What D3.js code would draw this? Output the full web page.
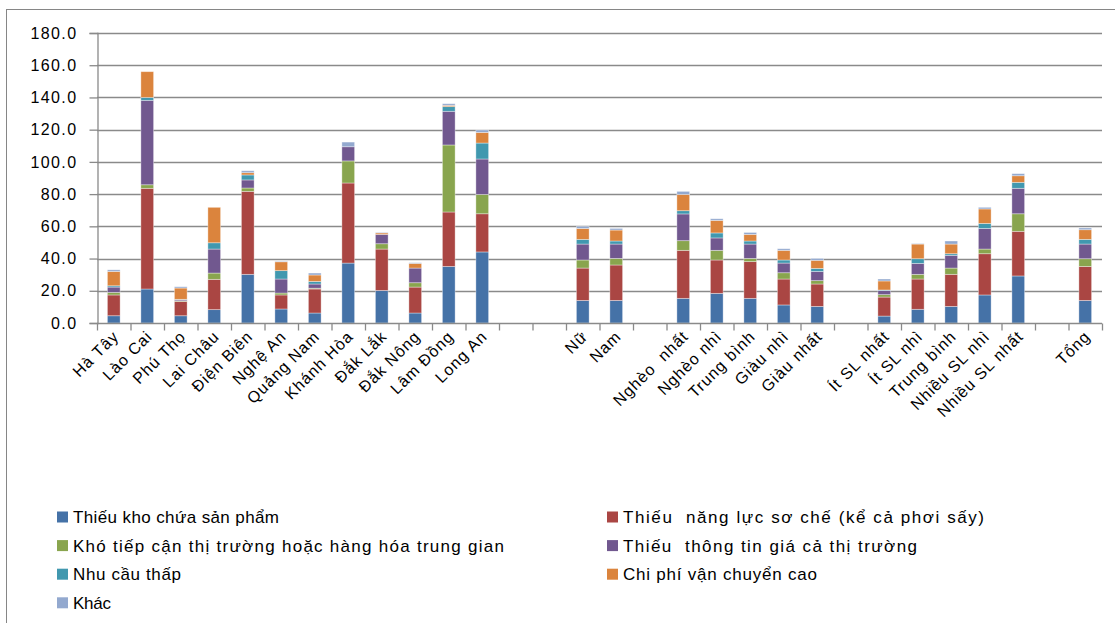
<!DOCTYPE html>
<html>
<head>
<meta charset="utf-8">
<script src="https://cdn.jsdelivr.net/npm/d3@7"></script>
<style>
  html, body { margin: 0; padding: 0; background: #fff; }
  svg { display: block; }
  text { font-family: "Liberation Sans", Arial, sans-serif; fill: #000; }
</style>
</head>
<body>
<svg id="chart" width="1115" height="623"></svg>
<script>
// ---------- data ----------
const categories = ["Hà Tây","Lào Cai","Phú Thọ","Lai Châu","Điện Biên","Nghệ An","Quảng Nam","Khánh Hòa","Đắk Lắk","Đắk Nông","Lâm Đồng","Long An","","","Nữ","Nam","","Nghèo  nhất","Nghèo nhì","Trung bình","Giàu nhì","Giàu nhất","","Ít SL nhất","Ít SL nhì","Trung bình","Nhiều SL nhì","Nhiều SL nhất","","Tổng"];

const seriesNames = ["Thiếu kho chứa sản phẩm","Thiếu  năng lực sơ chế (kể cả phơi sấy)","Khó tiếp cận thị trường hoặc hàng hóa trung gian","Thiếu  thông tin giá cả thị trường","Nhu cầu thấp","Chi phí vận chuyển cao","Khác"];

const thieuKho   = [4.5,21.1,4.5,8.3,30.2,8.7,6.2,37.2,20.2,6.2,35.1,44.1,null,null,14.0,14.0,null,15.3,18.4,15.3,11.2,10.3,null,4.3,8.5,10.3,17.4,29.2,null,14.0];
const thieuNangLuc = [12.9,62.5,8.9,18.8,51.5,8.7,14.9,49.7,25.7,16.1,33.8,23.7,null,null,20.1,22.0,null,29.8,20.7,22.8,16.1,13.9,null,11.8,18.8,19.9,25.6,27.7,null,21.1];
const khoTiepCan = [1.6,2.2,0.4,3.9,2.1,1.2,0.5,13.7,3.3,2.7,41.6,12.0,null,null,5.0,4.1,null,6.0,6.0,2.0,3.9,2.1,null,1.5,2.9,3.9,2.9,10.9,null,4.8];
const thieuThongTin = [3.3,52.4,0.7,14.9,5.0,8.7,2.6,8.8,5.8,9.1,20.9,22.0,null,null,9.9,8.9,null,16.6,7.7,8.9,6.0,5.7,null,2.6,6.8,7.9,12.8,15.8,null,9.1];
const nhuCauThap = [0.8,1.8,0.2,3.9,3.1,5.2,1.6,0,0,0,2.9,9.9,null,null,2.9,1.9,null,2.0,3.1,1.9,1.9,1.9,null,0.3,2.9,1.0,3.1,3.7,null,2.9];
const chiPhiVanChuyen = [8.9,16.0,7.0,22.0,1.4,5.5,4.0,0,0.9,2.9,0.8,6.6,null,null,6.8,6.8,null,10.1,7.8,4.1,6.0,5.0,null,5.6,9.1,6.0,9.0,4.1,null,6.0];
const khac = [1.0,0,0.8,0,1.2,0.3,1.2,2.9,0.3,0.4,1.0,1.5,null,null,1.3,1.0,null,1.9,1.0,1.2,1.0,1.2,null,1.2,0.3,1.9,1.0,1.3,null,1.1];

const yTicks = [0,20,40,60,80,100,120,140,160,180];

// ---------- styles ----------
const colors = ["#4572A7","#AA4643","#89A54E","#71588F","#4198AF","#DB843D","#93A9CF"];
const seriesValues = [thieuKho, thieuNangLuc, khoTiepCan, thieuThongTin, nhuCauThap, chiPhiVanChuyen, khac];

const svg = d3.select("#chart");
const margin = {left: 97, right: 1102, top: 33, bottom: 323};

// frame
svg.append("rect").attr("x", 6.5).attr("y", 9.5).attr("width", 1130).attr("height", 640)
  .attr("fill", "none").attr("stroke", "#868686").attr("stroke-width", 1);

const x = d3.scaleBand().domain(d3.range(categories.length))
  .range([margin.left, margin.right]).paddingInner(0.62).paddingOuter(0.31);
const slot = d3.scaleBand().domain(d3.range(categories.length)).range([margin.left, margin.right]);
const y = d3.scaleLinear().domain([0, 180]).range([margin.bottom, margin.top]);

// gridlines
svg.append("g").selectAll("line").data(yTicks.filter(d => d > 0)).join("line")
  .attr("x1", margin.left).attr("x2", margin.right)
  .attr("y1", d => Math.round(y(d)) + 0.5).attr("y2", d => Math.round(y(d)) + 0.5)
  .attr("stroke", "#8a8a8a").attr("stroke-width", 1.3);

// stacked data
const rows = categories.map((c, i) => {
  const r = {idx: i, gap: thieuKho[i] === null};
  seriesValues.forEach((arr, k) => r["s" + k] = arr[i] === null ? 0 : arr[i]);
  return r;
});
const stack = d3.stack().keys(seriesValues.map((_, k) => "s" + k));
const stacked = stack(rows);

svg.append("g").selectAll("g").data(stacked).join("g")
  .attr("fill", (d, k) => colors[k])
  .selectAll("rect").data(d => d.filter(p => !p.data.gap && p[1] - p[0] > 0)).join("rect")
  .attr("x", p => x(p.data.idx))
  .attr("width", x.bandwidth())
  .attr("y", p => y(p[1]))
  .attr("height", p => y(p[0]) - y(p[1]))
  .attr("stroke", "rgba(255,255,255,0.45)").attr("stroke-width", 0.8);

// y axis
const yAxis = d3.axisLeft(y).tickValues(yTicks).tickFormat(d3.format(".1f")).tickSize(8).tickPadding(12);
const gy = svg.append("g").attr("transform", `translate(${margin.left + 0.5},0)`).call(yAxis);
gy.select(".domain").attr("stroke", "#8a8a8a").attr("stroke-width", 1.3);
gy.selectAll(".tick line").attr("stroke", "#8a8a8a").attr("stroke-width", 1.3);
gy.selectAll(".tick text").style("font-size", "16px").style("letter-spacing", "1.4px")
  .style("font-family", "'Liberation Sans', Arial, sans-serif").attr("fill", "#000");

// x axis
const xAxis = d3.axisBottom(slot).tickValues(d3.range(categories.length + 1)).tickSize(7).tickFormat("");
const gx = svg.append("g").attr("transform", `translate(0,${margin.bottom + 0.5})`);
gx.append("line").attr("x1", margin.left).attr("x2", margin.right).attr("stroke", "#8a8a8a").attr("stroke-width", 1.3);
gx.selectAll("line.tk").data(d3.range(categories.length + 1)).join("line").attr("class", "tk")
  .attr("x1", i => (i < categories.length ? slot(i) : margin.right) + 0.5)
  .attr("x2", i => (i < categories.length ? slot(i) : margin.right) + 0.5)
  .attr("y1", 0).attr("y2", 7).attr("stroke", "#8a8a8a").attr("stroke-width", 1.3);

gx.selectAll("text").data(categories.map((c, i) => ({c, i})).filter(d => d.c !== "")).join("text")
  .attr("transform", d => `translate(${slot(d.i) + slot.bandwidth() / 2 + 6},${14}) rotate(-45)`)
  .attr("text-anchor", "end")
  .style("font-size", "16px").style("letter-spacing", "1px")
  .style("white-space", "pre")
  .text(d => d.c);

// legend
const legendLayout = [
  {k: 0, col: 0, row: 0, w: 206},
  {k: 1, col: 1, row: 0, w: 361},
  {k: 2, col: 0, row: 1, w: 431},
  {k: 3, col: 1, row: 1, w: 294},
  {k: 4, col: 0, row: 2, w: 108},
  {k: 5, col: 1, row: 2, w: 194},
  {k: 6, col: 0, row: 3, w: 38}
];
const colX = [57, 607];
const lg = svg.append("g").selectAll("g").data(legendLayout).join("g")
  .attr("transform", d => `translate(${colX[d.col]},${517 + d.row * 28.6})`);
lg.append("rect").attr("x", 0).attr("y", -5.5).attr("width", 11).attr("height", 11).attr("fill", d => colors[d.k]);
lg.append("text").attr("x", 16).attr("y", 0).attr("dy", "0.36em")
  .style("font-size", "17px").style("white-space", "pre")
  .attr("textLength", d => d.w).attr("lengthAdjust", "spacing")
  .text(d => seriesNames[d.k]);
</script>
</body>
</html>
